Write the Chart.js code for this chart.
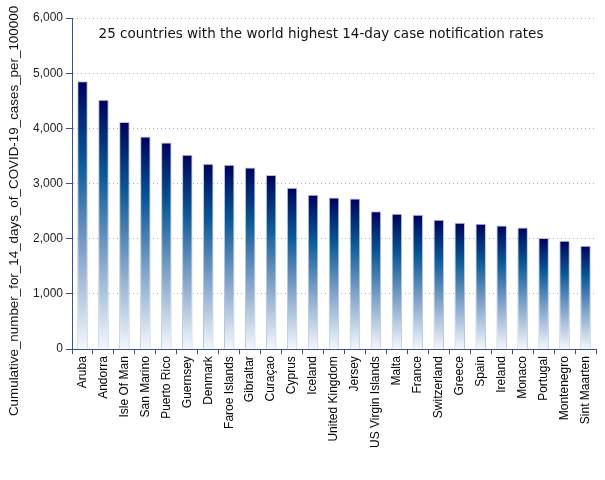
<!DOCTYPE html>
<html>
<head>
<meta charset="utf-8">
<script src="https://cdn.jsdelivr.net/npm/chart.js@4"></script>
<style>
  html, body { margin: 0; padding: 0; background: #fff; }
  #wrap { width: 605px; height: 480px; }
</style>
</head>
<body>
<div id="wrap"><canvas id="myChart"></canvas></div>
<script>
// data
const countries = ['Aruba', 'Andorra', 'Isle Of Man', 'San Marino', 'Puerto Rico', 'Guernsey', 'Denmark',
  'Faroe Islands', 'Gibraltar', 'Curaçao', 'Cyprus', 'Iceland', 'United Kingdom', 'Jersey',
  'US Virgin Islands', 'Malta', 'France', 'Switzerland', 'Greece', 'Spain', 'Ireland', 'Monaco',
  'Portugal', 'Montenegro', 'Sint Maarten'];
const rates = [4852, 4519, 4115, 3855, 3746, 3522, 3359, 3341, 3293, 3154, 2924, 2797, 2749, 2731,
  2501, 2452, 2434, 2344, 2289, 2271, 2241, 2205, 2012, 1963, 1872];
const yTicks = [0, 1000, 2000, 3000, 4000, 5000, 6000];

const titleText = '25 countries with the world highest 14-day case notification rates';
const yTitleText = 'Cumulative_number_for_14_days_of_COVID-19_cases_per_100000';
const axisBlue = '#3a4f9c';

// each bar fades from navy at its top to white at the base
function barFill(context) {
  const chart = context.chart;
  const area = chart.chartArea;
  if (!area) return '#1a4a8a';
  const y = chart.scales.y;
  const top = y.getPixelForValue(context.raw);
  const base = y.getPixelForValue(0);
  const g = chart.ctx.createLinearGradient(0, top, 0, base);
  g.addColorStop(0, '#00005e');
  g.addColorStop(0.1, '#00206e');
  g.addColorStop(0.3, '#0b5896');
  g.addColorStop(0.65, '#86a7cb');
  g.addColorStop(1, '#f5f8fc');
  return g;
}

// title sits inside the plot, y-axis title is placed by hand like the original
const extraText = {
  id: 'extraText',
  afterDraw(chart) {
    const ctx = chart.ctx;
    const a = chart.chartArea;
    ctx.save();
    ctx.font = '13.5px "DejaVu Sans"';
    ctx.fillStyle = '#111';
    ctx.textAlign = 'center';
    ctx.textBaseline = 'middle';
    ctx.fillText(titleText, (a.left + a.right) / 2 - 13, a.top + 16);

    ctx.font = '13.4px "Liberation Sans"';
    ctx.translate(14, 211);
    ctx.rotate(-Math.PI / 2);
    ctx.fillText(yTitleText, 0, 0);
    ctx.restore();
  }
};

new Chart(document.getElementById('myChart'), {
  type: 'bar',
  data: {
    labels: countries,
    datasets: [{
      data: rates,
      backgroundColor: barFill,
      borderColor: 'rgba(175,190,220,0.9)',
      borderWidth: 1,
      barPercentage: 0.5,
      categoryPercentage: 1
    }]
  },
  options: {
    responsive: true,
    maintainAspectRatio: false,
    animation: false,
    layout: { padding: { top: 18, right: 9, bottom: 30, left: 30 } },
    plugins: {
      legend: { display: false },
      tooltip: { enabled: false }
    },
    scales: {
      x: {
        offset: true,
        grid: {
          display: true,
          offset: true,
          drawOnChartArea: false,
          tickLength: 5,
          tickColor: axisBlue
        },
        border: { color: axisBlue, width: 1 },
        ticks: {
          color: '#000',
          maxRotation: 90,
          minRotation: 90,
          autoSkip: false,
          padding: 2,
          font: { family: '"Liberation Sans"', size: 12 }
        }
      },
      y: {
        min: 0,
        max: 6000,
        afterBuildTicks(axis) { axis.ticks = yTicks.map(v => ({ value: v })); },
        grid: {
          color: '#b0b0b0',
          tickColor: axisBlue,
          tickLength: 6,
          tickBorderDash: [],
          lineWidth: 1
        },
        border: { color: axisBlue, width: 1, dash: [1, 3] },
        ticks: {
          color: '#222',
          padding: 3,
          font: { family: '"Liberation Sans"', size: 12 },
          callback: v => v.toLocaleString('en-US')
        }
      }
    }
  },
  plugins: [extraText]
});
</script>
</body>
</html>
